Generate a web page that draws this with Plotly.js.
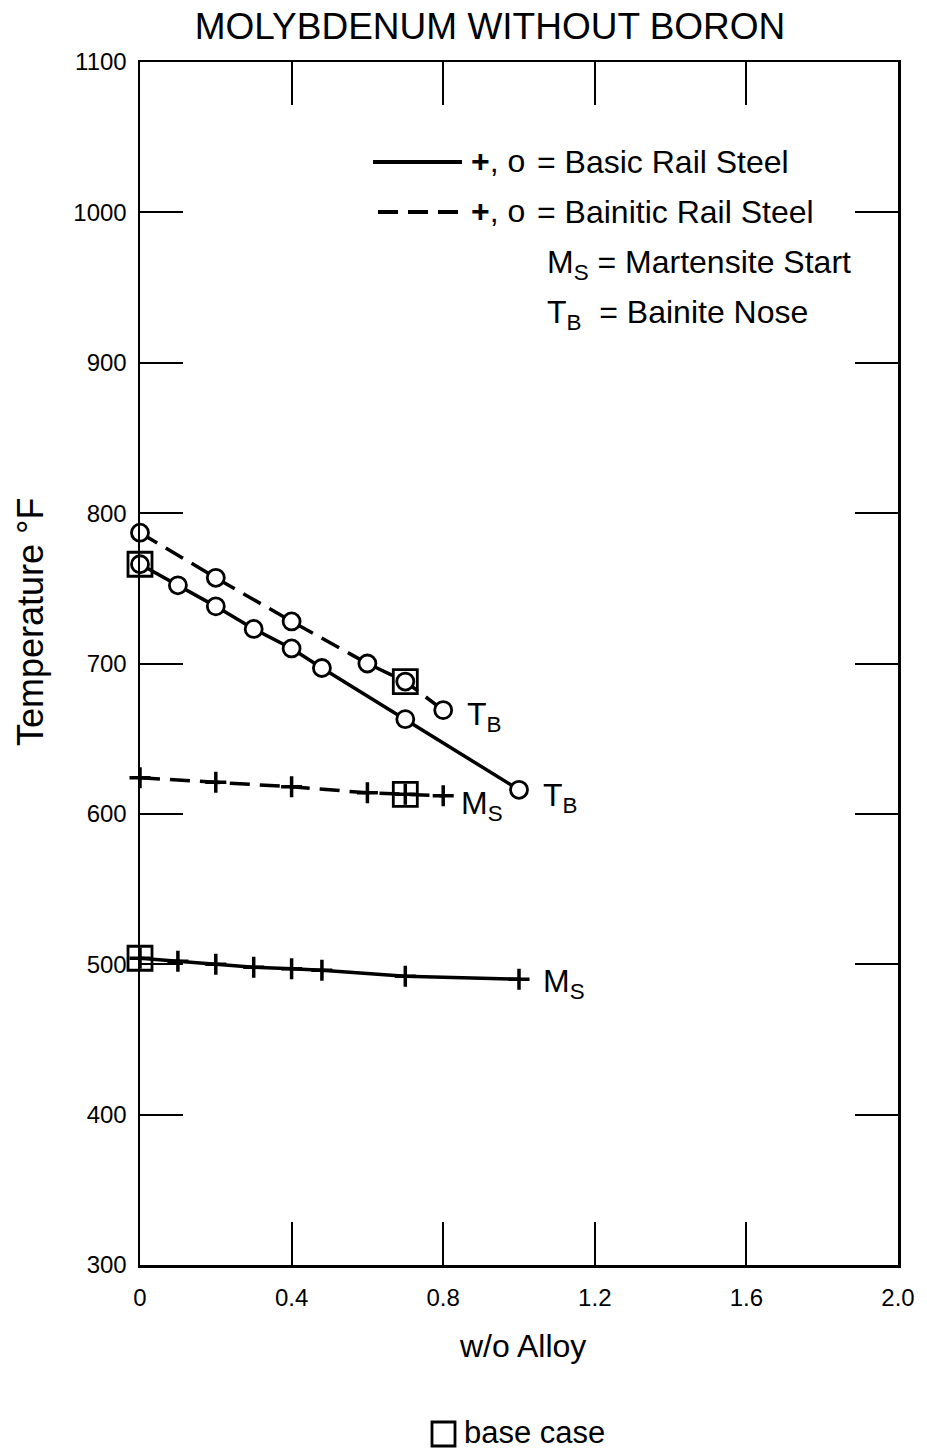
<!DOCTYPE html>
<html>
<head>
<meta charset="utf-8">
<script src="https://cdn.plot.ly/plotly-3.0.1.min.js"></script>
<style>html,body{margin:0;padding:0;background:#fff;}#chart{width:927px;height:1452px;}</style>
</head>
<body>
<div id="chart"></div>
<script>
// ---- data (w/o alloy vs temperature °F) ----
var basicTBx = [0, 0.1, 0.2, 0.3, 0.4, 0.48, 0.7, 1.0];
var basicTBy = [766, 752, 738, 723, 710, 697, 663, 616];

var bainTBx = [0, 0.2, 0.4, 0.6, 0.7, 0.8];
var bainTBy = [787, 757, 728, 700, 688, 669];

var basicMSx = [0, 0.1, 0.2, 0.3, 0.4, 0.48, 0.7, 1.0];
var basicMSy = [504, 502, 500, 498, 497, 496, 492, 490];

var bainMSx = [0, 0.2, 0.4, 0.6, 0.7, 0.8];
var bainMSy = [624, 621, 618, 614, 613, 612];

var baseX = [0, 0.7, 0, 0.7];
var baseY = [766, 688, 504, 613];

var xTickVals = [0, 0.4, 0.8, 1.2, 1.6, 2.0];
var xTickText = ['0', '0.4', '0.8', '1.2', '1.6', '2.0'];
var yTickVals = [300, 400, 500, 600, 700, 800, 900, 1000, 1100];

var FONT = 'Liberation Sans, Arial, Helvetica, sans-serif';
var LW = 3.5;

function lastX(a){return a[a.length-1];}

var circleMarker = {symbol: 'circle', size: 17, color: '#fff', line: {color: '#000', width: 2.8}};
var plusMarker = {symbol: 'cross-thin-open', size: 15, color: '#000', line: {color: '#000', width: 3.5}};

var traces = [
  {x: basicTBx, y: basicTBy, mode: 'lines+markers', name: 'Basic T_B', cliponaxis: false,
   line: {color: '#000', width: LW}, marker: circleMarker},
  {x: bainTBx, y: bainTBy, mode: 'lines+markers', name: 'Bainitic T_B', cliponaxis: false,
   line: {color: '#000', width: LW, dash: '20px,10px'}, marker: circleMarker},
  {x: basicMSx, y: basicMSy, mode: 'lines+markers', name: 'Basic M_S', cliponaxis: false,
   line: {color: '#000', width: LW}, marker: plusMarker},
  {x: bainMSx, y: bainMSy, mode: 'lines+markers', name: 'Bainitic M_S', cliponaxis: false,
   line: {color: '#000', width: LW, dash: '20px,10px'}, marker: plusMarker},
  {x: baseX, y: baseY, mode: 'markers', name: 'base case', cliponaxis: false,
   marker: {symbol: 'square-open', size: 24, color: '#000', line: {color: '#000', width: 2.8}}}
];

// pixel -> paper helpers for the hand-drawn key
var L = 140, R = 898, T = 62, B = 1265;
function px(x){return (x - L) / (R - L);}
function py(y){return (B - y) / (B - T);}

var keyFont = {family: FONT, size: 32, color: '#000'};
var lblFont = {family: FONT, size: 32, color: '#000'};
var ttlFont = {family: FONT, size: 32, color: '#000'};

var annotations = [
  // curve labels tied to last data points
  {x: lastX(bainTBx), y: lastX(bainTBy), xref: 'x', yref: 'y', text: 'T<sub>B</sub>', showarrow: false,
   xanchor: 'left', yanchor: 'middle', xshift: 22, yshift: -6, font: lblFont},
  {x: lastX(basicTBx), y: lastX(basicTBy), xref: 'x', yref: 'y', text: 'T<sub>B</sub>', showarrow: false,
   xanchor: 'left', yanchor: 'middle', xshift: 22, yshift: -8, font: lblFont},
  {x: lastX(bainMSx), y: lastX(bainMSy), xref: 'x', yref: 'y', text: 'M<sub>S</sub>', showarrow: false,
   xanchor: 'left', yanchor: 'middle', xshift: 16, yshift: -10, font: lblFont},
  {x: lastX(basicMSx), y: lastX(basicMSy), xref: 'x', yref: 'y', text: 'M<sub>S</sub>', showarrow: false,
   xanchor: 'left', yanchor: 'middle', xshift: 22, yshift: -4, font: lblFont},
  // key
  {x: px(498), y: py(161), xref: 'paper', yref: 'paper', text: '<b>+</b>, o', showarrow: false,
   xanchor: 'center', yanchor: 'middle', font: keyFont},
  {x: px(535), y: py(162), xref: 'paper', yref: 'paper', text: '= Basic Rail Steel', showarrow: false,
   xanchor: 'left', yanchor: 'middle', font: keyFont},
  {x: px(498), y: py(211), xref: 'paper', yref: 'paper', text: '<b>+</b>, o', showarrow: false,
   xanchor: 'center', yanchor: 'middle', font: keyFont},
  {x: px(535), y: py(212), xref: 'paper', yref: 'paper', text: '= Bainitic Rail Steel', showarrow: false,
   xanchor: 'left', yanchor: 'middle', font: keyFont},
  {x: px(545), y: py(264), xref: 'paper', yref: 'paper', text: 'M<sub>S</sub> = Martensite Start', showarrow: false,
   xanchor: 'left', yanchor: 'middle', font: keyFont},
  {x: px(545), y: py(314), xref: 'paper', yref: 'paper', text: 'T<sub>B</sub>  = Bainite Nose', showarrow: false,
   xanchor: 'left', yanchor: 'middle', font: keyFont},
  // axis titles
  {x: px(30), y: py(622), xref: 'paper', yref: 'paper', text: 'Temperature °F', showarrow: false,
   textangle: -90, xanchor: 'center', yanchor: 'middle', font: {family: FONT, size: 36, color: '#000'}},
  {x: px(522), y: py(1346), xref: 'paper', yref: 'paper', text: 'w/o Alloy', showarrow: false,
   xanchor: 'center', yanchor: 'middle', font: ttlFont},
  {x: px(462), y: py(1432), xref: 'paper', yref: 'paper', text: 'base case', showarrow: false,
   xanchor: 'left', yanchor: 'middle', font: {family: FONT, size: 31, color: '#000'}}
];

var shapes = [
  {type: 'line', xref: 'paper', yref: 'paper', x0: px(373), x1: px(462), y0: py(162), y1: py(162),
   line: {color: '#000', width: 4}},
  {type: 'line', xref: 'paper', yref: 'paper', x0: px(378), x1: px(462), y0: py(212), y1: py(212),
   line: {color: '#000', width: 4, dash: '20px,10px'}},
  {type: 'rect', xref: 'paper', yref: 'paper', x0: px(432), x1: px(455), y0: py(1422), y1: py(1446),
   line: {color: '#000', width: 2.8}, fillcolor: 'rgba(0,0,0,0)'}
];

var axisCommon = {
  showline: true, linecolor: '#000', linewidth: 2.5, mirror: 'ticks',
  ticks: 'inside', ticklen: 43, tickwidth: 2, tickcolor: '#000',
  showgrid: false, zeroline: false,
  tickfont: {family: FONT, size: 24, color: '#000'}
};

var layout = {
  width: 927, height: 1452,
  margin: {l: 140, r: 29, t: 62, b: 187},
  paper_bgcolor: '#fff', plot_bgcolor: '#fff',
  showlegend: false,
  title: {text: 'MOLYBDENUM WITHOUT BORON', x: 490/927, xanchor: 'center',
          y: 1 - 26/1452, yanchor: 'middle', yref: 'container',
          font: {family: FONT, size: 37, color: '#000'}},
  xaxis: Object.assign({}, axisCommon, {range: [0, 2.0], tickmode: 'array', tickvals: xTickVals,
          ticktext: xTickText, ticklabelstandoff: 10}),
  yaxis: Object.assign({}, axisCommon, {range: [300, 1100], tickmode: 'array', tickvals: yTickVals,
          ticklabelstandoff: 6}),
  annotations: annotations,
  shapes: shapes
};

Plotly.newPlot('chart', traces, layout, {staticPlot: true, displayModeBar: false});
</script>
</body>
</html>
